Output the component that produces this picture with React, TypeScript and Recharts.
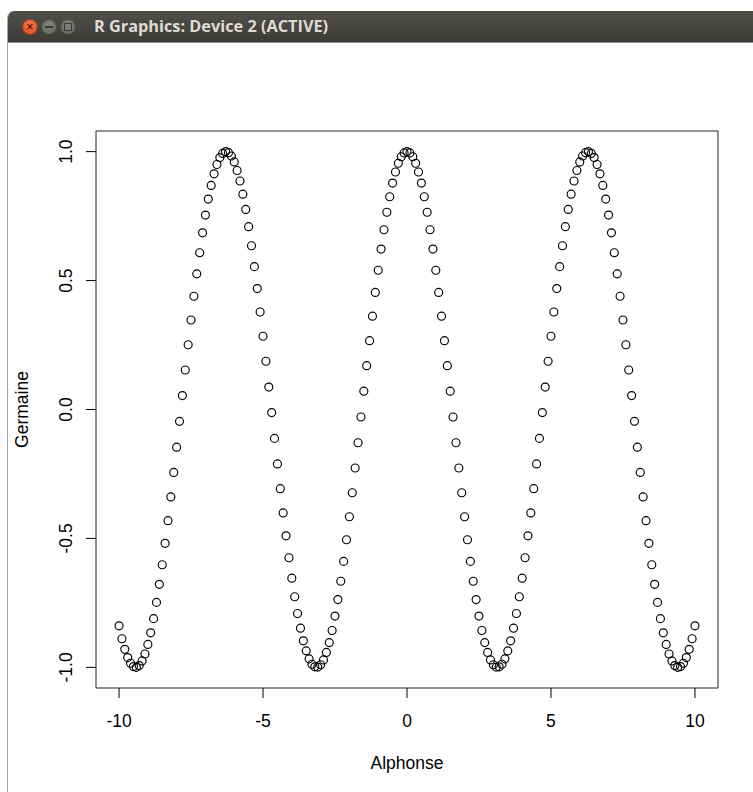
import { ScatterChart, Scatter, XAxis, YAxis, ReferenceArea, Label } from "recharts";

// x values (Alphonse)
const alphonse = [
  -10.0, -9.9, -9.8, -9.7, -9.6, -9.5, -9.4, -9.3, -9.2, -9.1,
  -9.0, -8.9, -8.8, -8.7, -8.6, -8.5, -8.4, -8.3, -8.2, -8.1,
  -8.0, -7.9, -7.8, -7.7, -7.6, -7.5, -7.4, -7.3, -7.2, -7.1,
  -7.0, -6.9, -6.8, -6.7, -6.6, -6.5, -6.4, -6.3, -6.2, -6.1,
  -6.0, -5.9, -5.8, -5.7, -5.6, -5.5, -5.4, -5.3, -5.2, -5.1,
  -5.0, -4.9, -4.8, -4.7, -4.6, -4.5, -4.4, -4.3, -4.2, -4.1,
  -4.0, -3.9, -3.8, -3.7, -3.6, -3.5, -3.4, -3.3, -3.2, -3.1,
  -3.0, -2.9, -2.8, -2.7, -2.6, -2.5, -2.4, -2.3, -2.2, -2.1,
  -2.0, -1.9, -1.8, -1.7, -1.6, -1.5, -1.4, -1.3, -1.2, -1.1,
  -1.0, -0.9, -0.8, -0.7, -0.6, -0.5, -0.4, -0.3, -0.2, -0.1,
  0.0, 0.1, 0.2, 0.3, 0.4, 0.5, 0.6, 0.7, 0.8, 0.9,
  1.0, 1.1, 1.2, 1.3, 1.4, 1.5, 1.6, 1.7, 1.8, 1.9,
  2.0, 2.1, 2.2, 2.3, 2.4, 2.5, 2.6, 2.7, 2.8, 2.9,
  3.0, 3.1, 3.2, 3.3, 3.4, 3.5, 3.6, 3.7, 3.8, 3.9,
  4.0, 4.1, 4.2, 4.3, 4.4, 4.5, 4.6, 4.7, 4.8, 4.9,
  5.0, 5.1, 5.2, 5.3, 5.4, 5.5, 5.6, 5.7, 5.8, 5.9,
  6.0, 6.1, 6.2, 6.3, 6.4, 6.5, 6.6, 6.7, 6.8, 6.9,
  7.0, 7.1, 7.2, 7.3, 7.4, 7.5, 7.6, 7.7, 7.8, 7.9,
  8.0, 8.1, 8.2, 8.3, 8.4, 8.5, 8.6, 8.7, 8.8, 8.9,
  9.0, 9.1, 9.2, 9.3, 9.4, 9.5, 9.6, 9.7, 9.8, 9.9,
  10.0,
];

// y values (Germaine)
const germaine = [
  -0.839, -0.889, -0.930, -0.962, -0.984, -0.997, -1.000, -0.993, -0.975, -0.948,
  -0.911, -0.866, -0.811, -0.748, -0.678, -0.602, -0.519, -0.431, -0.339, -0.244,
  -0.146, -0.046, 0.054, 0.153, 0.251, 0.347, 0.439, 0.526, 0.608, 0.685,
  0.754, 0.816, 0.869, 0.914, 0.950, 0.977, 0.993, 1.000, 0.996, 0.983,
  0.960, 0.927, 0.886, 0.835, 0.776, 0.709, 0.635, 0.554, 0.469, 0.378,
  0.284, 0.187, 0.087, -0.012, -0.112, -0.211, -0.307, -0.401, -0.490, -0.575,
  -0.654, -0.726, -0.791, -0.848, -0.897, -0.936, -0.967, -0.988, -0.998, -0.999,
  -0.990, -0.971, -0.942, -0.904, -0.857, -0.801, -0.737, -0.666, -0.589, -0.505,
  -0.416, -0.323, -0.227, -0.129, -0.029, 0.071, 0.170, 0.267, 0.362, 0.454,
  0.540, 0.622, 0.697, 0.765, 0.825, 0.878, 0.921, 0.955, 0.980, 0.995,
  1.000, 0.995, 0.980, 0.955, 0.921, 0.878, 0.825, 0.765, 0.697, 0.622,
  0.540, 0.454, 0.362, 0.267, 0.170, 0.071, -0.029, -0.129, -0.227, -0.323,
  -0.416, -0.505, -0.589, -0.666, -0.737, -0.801, -0.857, -0.904, -0.942, -0.971,
  -0.990, -0.999, -0.998, -0.988, -0.967, -0.936, -0.897, -0.848, -0.791, -0.726,
  -0.654, -0.575, -0.490, -0.401, -0.307, -0.211, -0.112, -0.012, 0.087, 0.187,
  0.284, 0.378, 0.469, 0.554, 0.635, 0.709, 0.776, 0.835, 0.886, 0.927,
  0.960, 0.983, 0.996, 1.000, 0.993, 0.977, 0.950, 0.914, 0.869, 0.816,
  0.754, 0.685, 0.608, 0.526, 0.439, 0.347, 0.251, 0.153, 0.054, -0.046,
  -0.146, -0.244, -0.339, -0.431, -0.519, -0.602, -0.678, -0.748, -0.811, -0.866,
  -0.911, -0.948, -0.975, -0.993, -1.000, -0.997, -0.984, -0.962, -0.930, -0.889,
  -0.839,
];

const xTicks = [-10, -5, 0, 5, 10];
const xTickLabels = ["-10", "-5", "0", "5", "10"];
const yTicks = [-1, -0.5, 0, 0.5, 1];
const yTickLabels = ["-1.0", "-0.5", "0.0", "0.5", "1.0"];

const points = alphonse.map((x, i) => ({ x, y: germaine[i] }));

const FONT = "'Liberation Sans', Arial, Helvetica, sans-serif";
const FS = 17.5;

function XTick({ x, y, payload }: any) {
  const label = xTickLabels[xTicks.indexOf(payload.value)] ?? String(payload.value);
  return (
    <text x={x} y={y} dy={27} textAnchor="middle" fontSize={FS} fontFamily={FONT} fill="#000">
      {label}
    </text>
  );
}

function YTick({ x, y, payload }: any) {
  const label = yTickLabels[yTicks.indexOf(payload.value)] ?? String(payload.value);
  const bx = x - 12;
  return (
    <text
      x={bx}
      y={y}
      transform={`rotate(-90 ${bx} ${y})`}
      textAnchor="middle"
      fontSize={FS}
      fontFamily={FONT}
      fill="#000"
    >
      {label}
    </text>
  );
}

function Ring(props: any) {
  return <circle cx={props.cx} cy={props.cy} r={4} fill="none" stroke="#000" strokeWidth={1.15} />;
}

function Btn({ left, bg, children }: any) {
  return (
    <div
      style={{
        position: "absolute",
        left,
        top: 8,
        width: 16,
        height: 16,
        borderRadius: 8,
        background: bg,
        boxShadow: "inset 0 0 0 1px rgba(0,0,0,0.35)",
        display: "flex",
        alignItems: "center",
        justifyContent: "center",
      }}
    >
      {children}
    </div>
  );
}

export default function App() {
  return (
    <div style={{ position: "relative", width: 753, height: 792, background: "#fff", overflow: "hidden" }}>
      <style>{"body{margin:0}"}</style>
      {/* window frame */}
      <div
        style={{
          position: "absolute",
          left: 7,
          top: 11,
          width: 780,
          height: 800,
          borderLeft: "1px solid #a8a8a8",
          borderTopLeftRadius: 7,
          overflow: "hidden",
          background: "#fff",
        }}
      >
        <div
          style={{
            position: "relative",
            height: 31,
            background: "linear-gradient(#504f4a, #3c3b37)",
            borderBottom: "1px solid #8c8b86",
          }}
        >
          <Btn left={14} bg="radial-gradient(circle at 50% 35%, #f47a4c, #d9471b)">
            <span style={{ color: "#5a1a08", fontSize: 10, fontWeight: 700, fontFamily: "DejaVu Sans, sans-serif", lineHeight: 1 }}>
              ×
            </span>
          </Btn>
          <Btn left={33} bg="radial-gradient(circle at 50% 35%, #85847e, #5e5d58)">
            <div style={{ width: 8, height: 2, background: "#3a3935" }} />
          </Btn>
          <Btn left={52} bg="radial-gradient(circle at 50% 35%, #85847e, #5e5d58)">
            <div style={{ width: 6, height: 6, border: "1px solid #3a3935" }} />
          </Btn>
          <div
            style={{
              position: "absolute",
              left: 86,
              top: 5,
              color: "#dfdbd2",
              fontFamily: "'Open Sans', 'DejaVu Sans', sans-serif",
              fontWeight: 700,
              fontSize: 16.3,
              lineHeight: "20px",
              whiteSpace: "nowrap",
            }}
          >
            R Graphics: Device 2 (ACTIVE)
          </div>
        </div>
      </div>
      {/* plot */}
      <div style={{ position: "absolute", left: 0, top: 0 }}>
        <ScatterChart width={753} height={792} margin={{ top: 131, right: 35, bottom: 24, left: 36 }}>
          <XAxis
            type="number"
            dataKey="x"
            domain={[-10.8, 10.8]}
            ticks={xTicks}
            allowDataOverflow
            axisLine={false}
            tickLine={{ stroke: "#000" }}
            tickSize={10}
            height={80}
            tick={<XTick />}
          >
            <Label
              content={({ viewBox }: any) => (
                <text
                  x={viewBox.x + viewBox.width / 2}
                  y={viewBox.y + 81}
                  textAnchor="middle"
                  fontSize={FS}
                  fontFamily={FONT}
                  fill="#000"
                >
                  Alphonse
                </text>
              )}
            />
          </XAxis>
          <YAxis
            type="number"
            dataKey="y"
            domain={[-1.08, 1.08]}
            ticks={yTicks}
            allowDataOverflow
            axisLine={false}
            tickLine={{ stroke: "#000" }}
            tickSize={10}
            width={60}
            tick={<YTick />}
          >
            <Label
              content={({ viewBox }: any) => {
                const cx = viewBox.x - 8;
                const cy = viewBox.y + viewBox.height / 2;
                return (
                  <text
                    x={cx}
                    y={cy}
                    transform={`rotate(-90 ${cx} ${cy})`}
                    textAnchor="middle"
                    fontSize={FS}
                    fontFamily={FONT}
                    fill="#000"
                  >
                    Germaine
                  </text>
                );
              }}
            />
          </YAxis>
          <ReferenceArea x1={-10.8} x2={10.8} y1={-1.08} y2={1.08} fill="none" stroke="#222" strokeWidth={1} />
          <Scatter data={points} shape={<Ring />} isAnimationActive={false} />
        </ScatterChart>
      </div>
    </div>
  );
}
